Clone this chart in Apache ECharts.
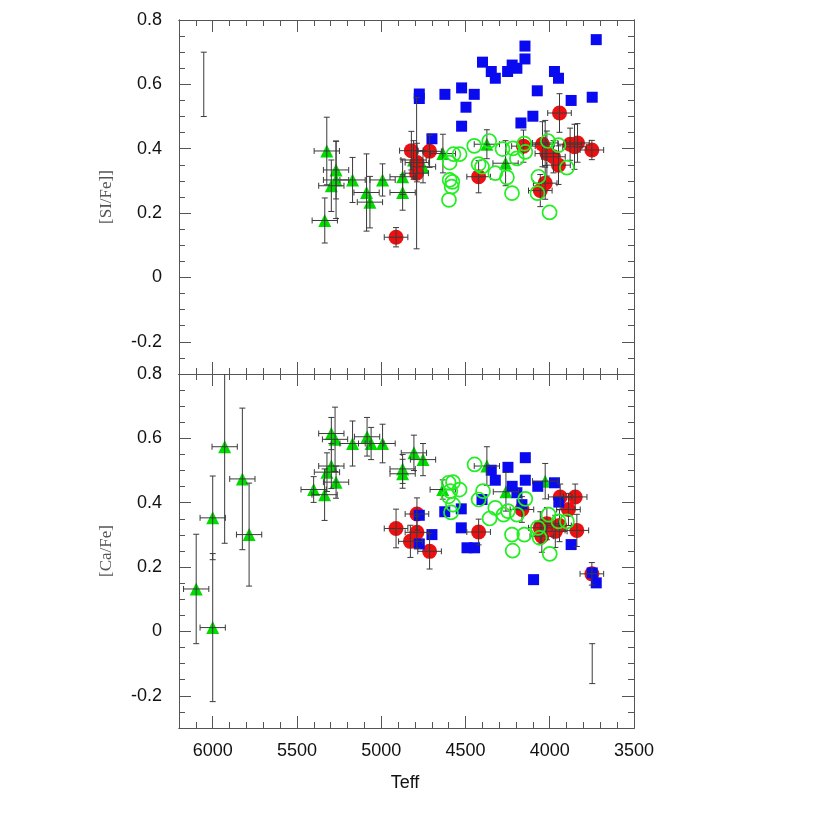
<!DOCTYPE html>
<html>
<head>
<meta charset="utf-8">
<script src="https://cdn.jsdelivr.net/npm/echarts@6/dist/echarts.min.js"></script>
<style>
  html, body { margin: 0; padding: 0; background: #fff; }
  #chart { width: 830px; height: 830px; }
</style>
</head>
<body>
<div id="chart"></div>
<script>
// x ticks / y ticks
const teffTicks = [3500, 4000, 4500, 5000, 5500, 6000];
const abundTicks = [-0.2, 0, 0.2, 0.4, 0.6, 0.8];

// [Si/Fe] panel --- [Teff, value, Teff error, value error]
const siTriangle = [
  [5323, 0.393, 75, 0.105], [5268, 0.334, 75, 0.09], [5268, 0.303, 75, 0.12],
  [5296, 0.285, 75, 0.08], [5170, 0.303, 75, 0.07], [5087, 0.264, 75, 0.12],
  [5067, 0.234, 75, 0.08], [4992, 0.303, 75, 0.05], [4873, 0.313, 75, 0.055],
  [4873, 0.264, 75, 0.055], [5335, 0.177, 75, 0.07], [4808, 0.365, 75, 0.06],
  [4752, 0.344, 75, 0.05], [4634, 0.385, 75, 0.06], [4373, 0.414, 75, 0.045],
  [4262, 0.355, 75, 0.07], [4027, 0.418, 75, 0.07]
];
const siRed = [
  [4821, 0.394, 70, 0.06], [4713, 0.392, 70, 0.05], [4788, 0.357, 70, 0.06],
  [4790, 0.324, 70, 0.235], [4912, 0.125, 70, 0.03], [4422, 0.313, 70, 0.05],
  [4156, 0.408, 70, 0.05], [3942, 0.511, 70, 0.06], [4043, 0.414, 70, 0.07],
  [4017, 0.385, 70, 0.07], [3978, 0.375, 70, 0.05], [3948, 0.349, 70, 0.06],
  [4027, 0.293, 70, 0.05], [4056, 0.270, 70, 0.05], [3879, 0.414, 70, 0.05],
  [3835, 0.418, 70, 0.06], [3853, 0.406, 70, 0.07], [3750, 0.396, 70, 0.03]
];
const siBlue = [
  [4774, 0.570], [4774, 0.556], [4699, 0.431], [4622, 0.569], [4523, 0.589],
  [4497, 0.529], [4523, 0.470], [4448, 0.569], [4399, 0.669], [4347, 0.640],
  [4323, 0.619], [4250, 0.640], [4223, 0.660], [4195, 0.650], [4147, 0.719],
  [4147, 0.679], [4074, 0.580], [4100, 0.501], [4171, 0.480], [3972, 0.640],
  [3948, 0.619], [3873, 0.550], [3748, 0.560], [3724, 0.739]
];
const siOpen = [
  [4594, 0.357], [4571, 0.383], [4535, 0.383], [4594, 0.303], [4578, 0.297],
  [4582, 0.282], [4598, 0.241], [4448, 0.409], [4359, 0.424], [4422, 0.352],
  [4402, 0.344], [4323, 0.324], [4280, 0.399], [4254, 0.311], [4224, 0.262],
  [4218, 0.401], [4195, 0.370], [4151, 0.416], [4145, 0.390], [4067, 0.313],
  [4073, 0.262], [4001, 0.202], [4011, 0.424], [3948, 0.411], [3898, 0.341]
];
const siTypical = [[6053, 0.6, 0, 0.1]];

// [Ca/Fe] panel
const caTriangle = [
  [6098, 0.132, 75, 0.17], [6000, 0.353, 75, 0.13], [6000, 0.012, 75, 0.23],
  [5929, 0.574, 75, 0.30], [5824, 0.474, 75, 0.22], [5784, 0.301, 75, 0.16],
  [5401, 0.441, 75, 0.04], [5336, 0.425, 75, 0.08], [5322, 0.495, 75, 0.06],
  [5296, 0.514, 75, 0.07], [5268, 0.464, 75, 0.05], [5296, 0.615, 75, 0.05],
  [5274, 0.597, 75, 0.10], [5170, 0.584, 75, 0.07], [5084, 0.605, 75, 0.06],
  [5060, 0.584, 75, 0.05], [4992, 0.584, 75, 0.06], [4806, 0.555, 75, 0.055],
  [4752, 0.534, 75, 0.05], [4873, 0.505, 75, 0.045], [4873, 0.490, 75, 0.045],
  [4635, 0.441, 75, 0.03], [4373, 0.514, 75, 0.06], [4260, 0.434, 75, 0.06],
  [4027, 0.467, 75, 0.055]
];
const caRed = [
  [4912, 0.320, 70, 0.06], [4788, 0.365, 70, 0.05], [4788, 0.308, 70, 0.05],
  [4827, 0.280, 70, 0.05], [4713, 0.249, 70, 0.055], [4422, 0.309, 70, 0.04],
  [4165, 0.379, 70, 0.04], [3938, 0.418, 70, 0.04], [3849, 0.418, 70, 0.04],
  [3889, 0.379, 70, 0.05], [4056, 0.322, 70, 0.05], [4017, 0.335, 70, 0.05],
  [4047, 0.296, 70, 0.05], [3967, 0.311, 70, 0.05], [3942, 0.329, 70, 0.05],
  [3839, 0.314, 70, 0.05], [3750, 0.179, 70, 0.035]
];
const caBlue = [
  [4774, 0.361], [4699, 0.301], [4774, 0.272], [4623, 0.372], [4525, 0.381],
  [4525, 0.322], [4491, 0.260], [4446, 0.260], [4402, 0.410], [4347, 0.501],
  [4323, 0.470], [4248, 0.510], [4223, 0.451], [4195, 0.431], [4165, 0.394],
  [4145, 0.540], [4145, 0.470], [4071, 0.451], [3972, 0.462], [3946, 0.402],
  [3873, 0.270], [4096, 0.161], [3748, 0.182], [3724, 0.151]
];
const caOpen = [
  [4446, 0.519], [4600, 0.462], [4574, 0.464], [4535, 0.441], [4590, 0.436],
  [4600, 0.420], [4574, 0.394], [4586, 0.370], [4396, 0.436], [4422, 0.410],
  [4323, 0.384], [4357, 0.351], [4274, 0.363], [4248, 0.374], [4195, 0.363],
  [4145, 0.412], [4224, 0.301], [4151, 0.301], [4220, 0.251], [4000, 0.241],
  [4007, 0.363], [4070, 0.322], [4060, 0.291], [3948, 0.342], [3898, 0.342]
];
const caTypical = [[3748, -0.10, 0, 0.062]];

const axisColor = '#555';
const lineCol = { color: axisColor, width: 1 };
const labelFont = 'Liberation Sans, Arial, sans-serif';

function xAxes(grid, labels) {
  const base = {
    type: 'value', gridIndex: grid, min: 3500, max: 6200, inverse: true,
    splitLine: { show: false },
    axisLine: { onZero: false, lineStyle: lineCol },
  };
  const out = [];
  ['bottom', 'top'].forEach((pos) => {
    out.push(Object.assign({}, base, {
      position: pos, interval: 100,
      axisTick: { inside: true, length: 6, lineStyle: lineCol },
      axisLabel: { show: false },
    }));
    out.push(Object.assign({}, base, {
      position: pos, interval: 500,
      axisTick: { inside: true, length: 12, customValues: teffTicks, lineStyle: lineCol },
      axisLabel: {
        show: labels && pos === 'bottom', customValues: teffTicks, margin: 14,
        color: '#111', fontSize: 18, fontFamily: labelFont,
        formatter: v => String(Math.round(v)),
      },
    }));
  });
  return out;
}

function yAxes(grid) {
  const base = {
    type: 'value', gridIndex: grid, min: -0.3, max: 0.8,
    splitLine: { show: false },
    axisLine: { onZero: false, lineStyle: lineCol },
  };
  const out = [];
  ['left', 'right'].forEach((pos) => {
    out.push(Object.assign({}, base, {
      position: pos, interval: 0.05,
      axisTick: { inside: true, length: 6, lineStyle: lineCol },
      axisLabel: { show: false },
    }));
    out.push(Object.assign({}, base, {
      position: pos, interval: 0.1,
      axisTick: { inside: true, length: 12, customValues: abundTicks, lineStyle: lineCol },
      axisLabel: {
        show: pos === 'left', customValues: abundTicks, margin: 17,
        color: '#111', fontSize: 18, fontFamily: labelFont,
        formatter: v => (Math.abs(v) < 1e-9 ? '0' : (+v).toFixed(1)),
      },
    }));
  });
  return out;
}

function errorBars(data, grid) {
  return {
    type: 'custom', xAxisIndex: grid * 4, yAxisIndex: grid * 4, z: 4, clip: true,
    data: data,
    encode: { x: 0, y: 1 },
    renderItem(params, api) {
      const x = api.value(0);
      const y = api.value(1);
      const xe = api.value(2);
      const ye = api.value(3);
      const st = { stroke: '#3a3a3a', lineWidth: 1 };
      const cap = 3;
      const kids = [];
      const top = api.coord([x, y + ye]);
      const bot = api.coord([x, y - ye]);
      kids.push({ type: 'line', shape: { x1: top[0], y1: top[1], x2: bot[0], y2: bot[1] }, style: st });
      kids.push({ type: 'line', shape: { x1: top[0] - cap, y1: top[1], x2: top[0] + cap, y2: top[1] }, style: st });
      kids.push({ type: 'line', shape: { x1: bot[0] - cap, y1: bot[1], x2: bot[0] + cap, y2: bot[1] }, style: st });
      if (xe > 0) {
        const l = api.coord([x + xe, y]);
        const r = api.coord([x - xe, y]);
        kids.push({ type: 'line', shape: { x1: l[0], y1: l[1], x2: r[0], y2: r[1] }, style: st });
        kids.push({ type: 'line', shape: { x1: l[0], y1: l[1] - cap, x2: l[0], y2: l[1] + cap }, style: st });
        kids.push({ type: 'line', shape: { x1: r[0], y1: r[1] - cap, x2: r[0], y2: r[1] + cap }, style: st });
      }
      return { type: 'group', children: kids };
    },
  };
}

function scatter(data, grid, symbol, size, style, z) {
  return {
    type: 'scatter', xAxisIndex: grid * 4, yAxisIndex: grid * 4,
    data: data.map(d => [d[0], d[1]]),
    symbol: symbol, symbolSize: size, itemStyle: Object.assign({ opacity: 1 }, style), z: z,
    silent: true, animation: false,
  };
}

const triStyle = { color: '#00dc00' };
const redStyle = { color: '#ee1010' };
const blueStyle = { color: '#0a0af0' };
const openStyle = { color: 'rgba(0,0,0,0)', borderColor: '#22ee22', borderWidth: 1.7 };

const series = [];
[[siTriangle, siRed, siBlue, siOpen, siTypical], [caTriangle, caRed, caBlue, caOpen, caTypical]]
  .forEach(([tri, red, blue, open, typ], g) => {
    series.push(scatter(tri, g, 'triangle', 13, triStyle, 2));
    series.push(scatter(red, g, 'circle', 15, redStyle, 2));
    series.push(scatter(blue, g, 'rect', 11, blueStyle, 3));
    series.push(errorBars(tri, g));
    series.push(errorBars(red, g));
    series.push(errorBars(typ, g));
    series.push(scatter(open, g, 'circle', 14, openStyle, 5));
  });

const chart = echarts.init(document.getElementById('chart'), null, { renderer: 'canvas' });
chart.setOption({
  animation: false,
  backgroundColor: '#fff',
  grid: [
    { left: 179, width: 455, top: 20, height: 354 },
    { left: 179, width: 455, top: 374, height: 354 },
  ],
  xAxis: xAxes(0, false).concat(xAxes(1, true)),
  yAxis: yAxes(0).concat(yAxes(1)),
  graphic: [
    {
      type: 'text', x: 107, y: 197, rotation: Math.PI / 2,
      style: { text: '[SI/Fe]]', fill: '#555', fontSize: 17, fontFamily: 'Liberation Serif, DejaVu Serif, serif', align: 'center', verticalAlign: 'middle' },
    },
    {
      type: 'text', x: 107, y: 551, rotation: Math.PI / 2,
      style: { text: '[Ca/Fe]', fill: '#555', fontSize: 17, fontFamily: 'Liberation Serif, DejaVu Serif, serif', align: 'center', verticalAlign: 'middle' },
    },
    {
      type: 'text', x: 405, y: 783,
      style: { text: 'Teff', fill: '#111', fontSize: 18, fontFamily: labelFont, align: 'center', verticalAlign: 'middle' },
    },
  ],
  series: series,
});
</script>
</body>
</html>
